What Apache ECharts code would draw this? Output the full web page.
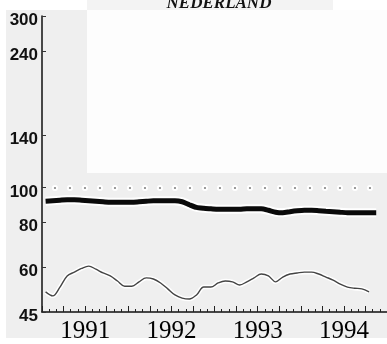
<!DOCTYPE html>
<html><head><meta charset="utf-8">
<script src="https://cdn.jsdelivr.net/npm/echarts@6/dist/echarts.min.js"></script>
<style>html,body{margin:0;padding:0;background:#fff}#c{width:387px;height:344px}</style>
</head><body><div id="c"></div>
<script>
const titleText = 'NEDERLAND';
const startYear = 1991;
const yearLabels = ['1991', '1992', '1993', '1994'];
const yTickValues = [45, 60, 80, 100, 140, 240, 300];
const refLevel = 100;
// monthly values, Jan 1991 onward
const thickSeries = [91.5, 91.8, 92.1, 92.4, 92.4, 92.1, 91.8, 91.5, 91.2, 90.9, 90.9, 90.9,
  90.9, 91.2, 91.5, 91.8, 91.8, 91.8, 91.8, 91.2, 89.5, 88.0, 87.5, 87.2,
  86.9, 86.9, 86.9, 86.9, 87.2, 87.2, 87.2, 86.4, 85.3, 85.0, 85.6, 86.1,
  86.4, 86.4, 86.1, 85.8, 85.6, 85.3, 85.0, 85.0, 85.0, 85.0, 85.0];
const thinSeries = [51.2, 49.9, 52.8, 56.7, 58.1, 59.5, 60.4, 59.2, 57.8, 56.7, 54.9, 53.1,
  53.1, 54.6, 56.0, 55.6, 54.2, 52.2, 50.2, 49.2, 48.9, 50.2, 52.8, 52.8,
  54.2, 54.9, 54.6, 53.5, 54.6, 56.0, 57.4, 56.7, 54.6, 56.3, 57.4, 57.8,
  58.1, 58.1, 57.4, 56.3, 55.2, 53.8, 52.8, 52.4, 52.2, 51.2];

const toXY = arr => arr.map((v, i) => [startYear + (i + 0.5) / 12, v]);
const thickData = toXY(thickSeries);
const thinData = toXY(thinSeries);

const chart = echarts.init(document.getElementById('c'), null, {renderer: 'canvas'});
chart.setOption({
  animation: false,
  backgroundColor: '#ffffff',
  graphic: [
    {type: 'rect', z: -10, shape: {x: 6, y: 10, width: 381, height: 328}, style: {fill: '#efefef'}},
    {type: 'rect', z: -9, shape: {x: 87, y: 10, width: 300, height: 163}, style: {fill: '#fdfdfd'}},
    {type: 'rect', z: -9, shape: {x: 87, y: 0, width: 246, height: 10}, style: {fill: '#f3f3f3'}}
  ],
  title: {
    text: titleText, left: 214, top: -10, textAlign: 'center',
    textStyle: {fontFamily: 'Liberation Serif', fontStyle: 'italic', fontWeight: 'bold', fontSize: 17, color: '#111'}
  },
  grid: {left: 42, right: 0, top: 16, bottom: 31},
  xAxis: {
    type: 'value', min: startYear, max: startYear + 4, interval: 0.25,
    axisLine: {lineStyle: {color: '#111', width: 1.5}},
    axisTick: {inside: true, length: 6, lineStyle: {color: '#222', width: 1}},
    minorTick: {show: true, splitNumber: 3, length: 3, lineStyle: {color: '#222', width: 1}},
    splitLine: {show: false},
    axisLabel: {
      customValues: yearLabels.map(y => Number(y) + 0.5),
      formatter: v => String(Math.floor(v)),
      fontFamily: 'Liberation Serif', fontSize: 25, color: '#000', margin: 7
    }
  },
  yAxis: {
    type: 'log', logBase: 10, min: 45, max: 300,
    axisLine: {show: true, lineStyle: {color: '#111', width: 1.5}},
    axisTick: {show: true, inside: true, length: 4, customValues: yTickValues, lineStyle: {color: '#333'}},
    splitLine: {show: false},
    axisLabel: {
      customValues: yTickValues,
      fontFamily: 'Liberation Sans', fontSize: 17, fontWeight: 'bold', color: '#111', margin: 4,
      verticalAlign: 'top', lineHeight: 9
    }
  },
  series: [
    {type: 'line', data: thickData, symbol: 'none', silent: true, z: 2,
     lineStyle: {color: '#ffffff', width: 9},
     markLine: {silent: true, symbol: 'none', label: {show: false},
       lineStyle: {color: '#ffffff', width: 6, type: [0.1, 14.9], cap: 'round'},
       data: [[{coord: [1991.15, refLevel]}, {coord: [1994.85, refLevel]}]]}},
    {type: 'line', data: thinData, symbol: 'none', silent: true, z: 2,
     smooth: 0.35, lineStyle: {color: '#ffffff', width: 4.5}},
    {type: 'line', data: thickData, symbol: 'none', silent: true, z: 3,
     smooth: 0.2, lineStyle: {color: '#0a0a0a', width: 5},
     markLine: {silent: true, symbol: 'none', label: {show: false},
       lineStyle: {color: '#8a8a8a', width: 2.2, type: [0.1, 14.9], cap: 'round'},
       data: [[{coord: [1991.15, refLevel]}, {coord: [1994.85, refLevel]}]]}},
    {type: 'line', data: thinData, symbol: 'none', silent: true, z: 3,
     smooth: 0.35, lineStyle: {color: '#444', width: 1.4}}
  ]
});
</script></body></html>
